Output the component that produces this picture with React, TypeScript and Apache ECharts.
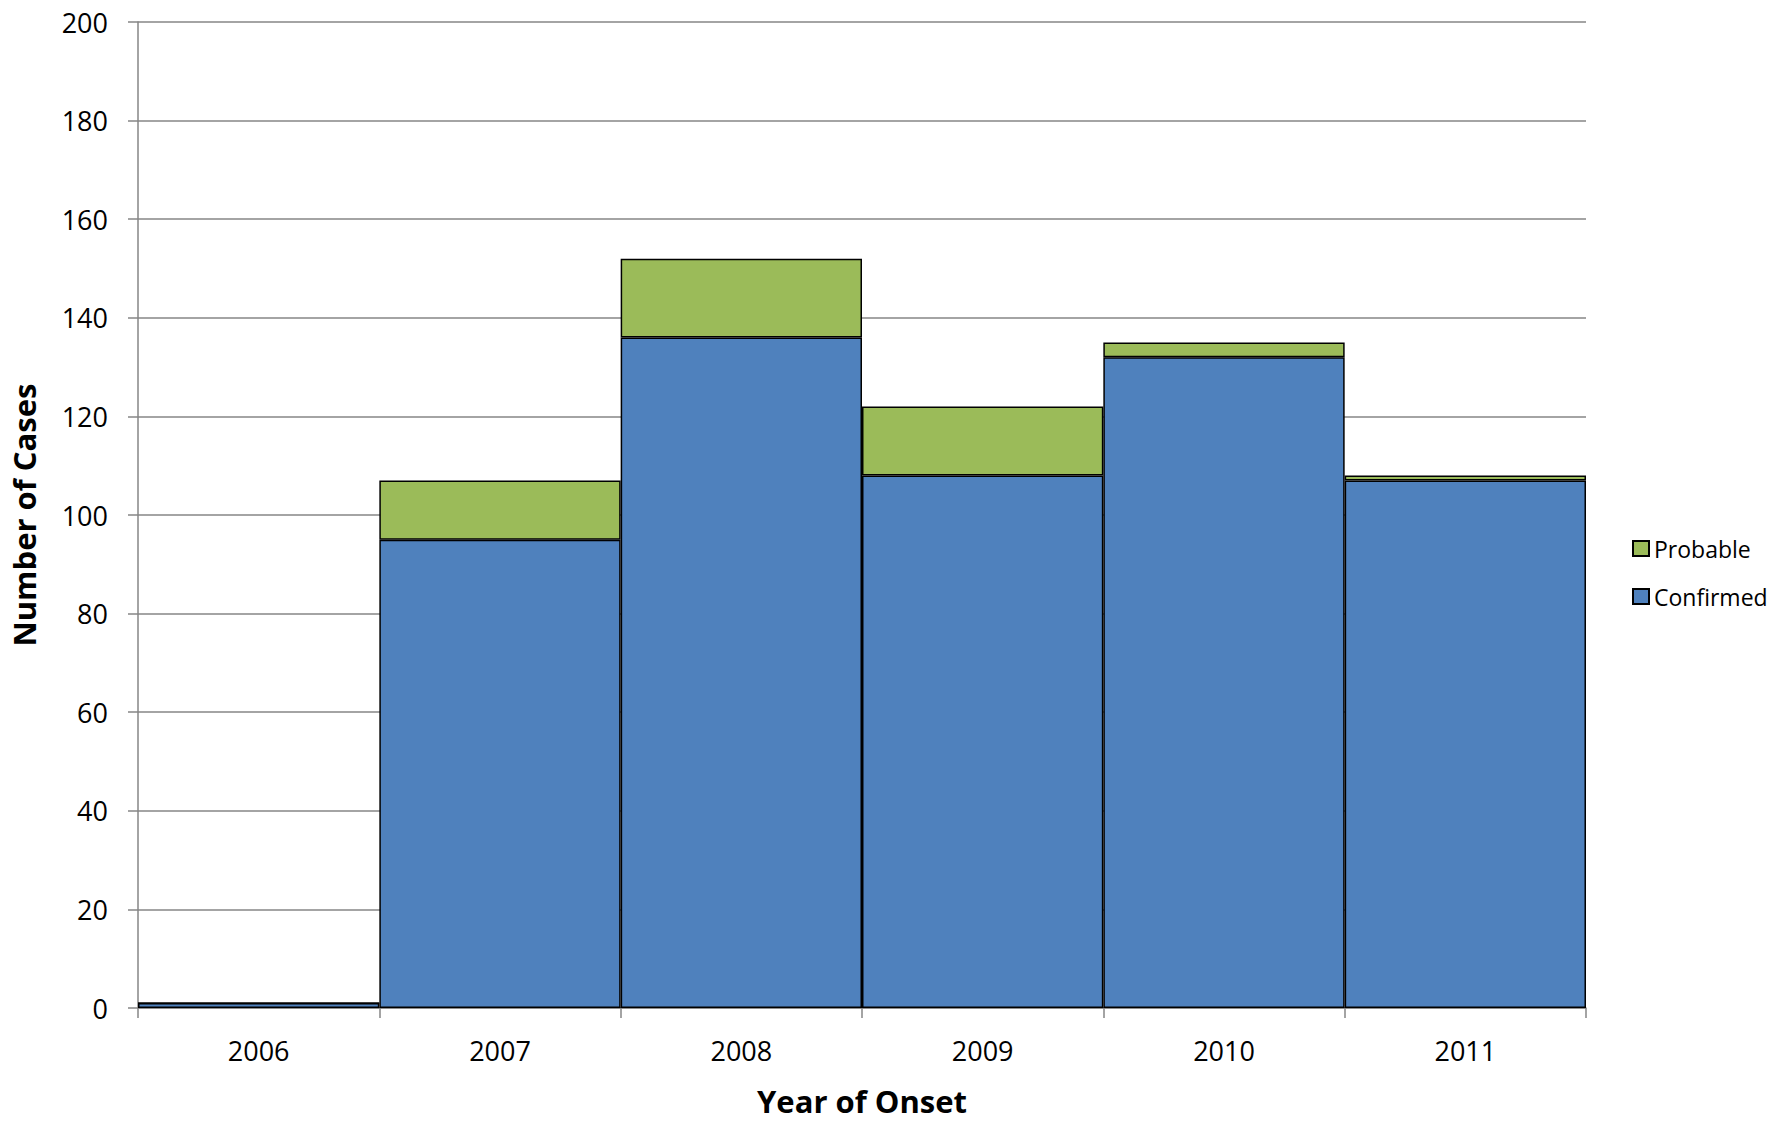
import React, { useEffect, useRef } from "react";
import * as echarts from "echarts";

const years = ["2006", "2007", "2008", "2009", "2010", "2011"];
const confirmed = [1, 95, 136, 108, 132, 107];
const probable = [0, 12, 16, 14, 3, 1];

const FONT = "'Open Sans', 'Noto Sans', sans-serif";

export default function App() {
  const ref = useRef<HTMLDivElement>(null);
  useEffect(() => {
    if (!ref.current) return;
    const chart = echarts.init(ref.current, undefined, { renderer: "svg" });
    chart.setOption({
      animation: false,
      backgroundColor: "#ffffff",
      textStyle: { fontFamily: FONT },
      grid: { left: 136, top: 22, width: 1450, height: 988, containLabel: false },
      legend: {
        orient: "vertical",
        left: 1627,
        top: 532,
        itemWidth: 16,
        itemHeight: 15,
        itemGap: 25,
        icon: "rect",
        data: ["Probable", "Confirmed"],
        textStyle: { fontSize: 23, color: "#000", fontFamily: FONT, padding: [0, 0, 0, 0] },
      },
      xAxis: {
        type: "category",
        data: years,
        boundaryGap: true,
        name: "Year of Onset",
        nameLocation: "middle",
        nameGap: 77,
        nameTextStyle: { fontSize: 31, fontWeight: "bold", color: "#000", fontFamily: FONT },
        axisLine: { lineStyle: { color: "#868686", width: 1.5 } },
        axisTick: { show: true, length: 10, interval: 0, lineStyle: { color: "#868686", width: 1.5 } },
        axisLabel: { fontSize: 27, color: "#000", margin: 29, interval: 0, fontFamily: FONT },
        splitLine: { show: false },
      },
      yAxis: {
        type: "value",
        min: 0,
        max: 200,
        interval: 20,
        name: "Number of Cases",
        nameLocation: "middle",
        nameRotate: 90,
        nameGap: 99,
        nameTextStyle: { fontSize: 31, fontWeight: "bold", color: "#000", fontFamily: FONT },
        axisLine: { show: true, lineStyle: { color: "#868686", width: 1.5 } },
        axisTick: { show: true, length: 10, lineStyle: { color: "#868686", width: 1.5 } },
        axisLabel: { fontSize: 27, color: "#000", margin: 30, fontFamily: FONT },
        splitLine: { show: true, lineStyle: { color: "#868686", width: 1.5 } },
      },
      series: [
        {
          name: "Confirmed",
          type: "bar",
          stack: "total",
          data: confirmed,
          barCategoryGap: "0%",
          itemStyle: { color: "#4F81BD", borderColor: "#000", borderWidth: 1.5 },
        },
        {
          name: "Probable",
          type: "bar",
          stack: "total",
          data: probable,
          barCategoryGap: "0%",
          itemStyle: { color: "#9BBB59", borderColor: "#000", borderWidth: 1.5 },
        },
      ],
    });
    return () => chart.dispose();
  }, []);
  return (
    <div
      ref={ref}
      style={{ position: "fixed", left: 0, top: 0, width: "1781px", height: "1121px", background: "#fff" }}
    />
  );
}
